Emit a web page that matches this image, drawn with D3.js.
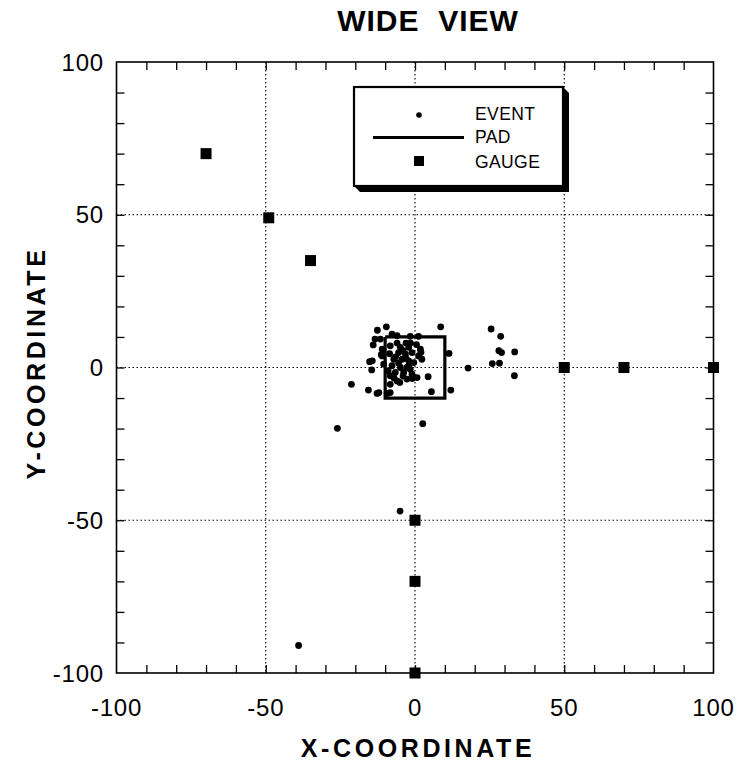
<!DOCTYPE html>
<html><head><meta charset="utf-8">
<script src="https://d3js.org/d3.v7.min.js"></script>
<style>
body{margin:0;background:#fff;}
svg{display:block;}
text{font-family:"Liberation Sans",Arial,Helvetica,sans-serif;fill:#000;}
</style></head>
<body>
<svg id="chart" width="741" height="768"></svg>
<script>
// ---- data ----
const eventX = [-9.6,-12.6,8.6,-13.4,-14,-11.3,-14.3,-15.2,-14.5,-21.3,-15.6,-12.7,5.5,12,11.4,17.8,25.5,28.7,28.1,29,33.4,25.9,28.3,33.3,-26,2.6,4.4,-9.3,
 -7.7,-6,-1.6,1.2,-8.3,-4.9,-2.1,-5.5,-3.2,-1,1.2,-11,-7.1,-4.3,-2.1,-0.4,-10.5,-7.7,-4.9,-2.7,-1.6,-6.6,-3.8,-1,-8.3,-6,-2.7,0.7,-5.1,-8.3,-8.3,-11.6,-11,2.3,1.8,-12.1,
 -3,-6,-1.5,-4,-6.5,-3,-5.5,-2,-8.5,-9,-7,-4,0.5,2,-0.9,-5,-39];
const eventY = [13.3,12.2,13.3,9.3,7.4,4.2,2.2,1.9,-0.8,-5.5,-7.4,-8.5,-7.9,-7.4,4.6,-0.2,12.6,10.2,5.5,4.9,5.1,1.3,1.4,-2.7,-19.9,-18.4,-3,-8.5,
 10.9,10.4,10.2,10.2,7.1,6.6,6.6,4.9,4.4,4.9,3.8,3.8,2.7,2.7,2.2,1.6,1.1,0.6,0,0,-0.6,-1.6,-1.6,-2.2,-2.7,-4.4,-3.8,-3.3,-4.9,-5.5,-8.2,9.3,6,2.7,6,-8.2,
 8,8,8,5.5,3.5,3,1.5,0.8,4.5,-1,-3.5,-2.8,7.5,5,-3.6,-47,-91];
const gaugeX = [-70,-49,-35,50,70,100,0,0,0];
const gaugeY = [70,49,35,0,0,0,-50,-70,-100];
const padX = [-10,10,10,-10,-10];
const padY = [10,10,-10,-10,10];
const majorTicks = [-100,-50,0,50,100];
const minorTicks = [-90,-80,-70,-60,-50,-40,-30,-20,-10,0,10,20,30,40,50,60,70,80,90];
const gridValues = [-50,0,50];
const legendLabels = ["EVENT","PAD","GAUGE"];

// ---- layout ----
const L = 116.5, R = 713.5, T = 62, B = 673;
const x = d3.scaleLinear().domain([-100,100]).range([L,R]);
const y = d3.scaleLinear().domain([-100,100]).range([B,T]);
const svg = d3.select("#chart");

// title
svg.append("text").attr("x",428).attr("y",31).attr("text-anchor","middle")
  .style("font-size","30px").style("font-weight","bold").style("white-space","pre").style("letter-spacing","1px")
  .text("WIDE  VIEW");

// grid
const g = svg.append("g");
g.selectAll(".gx").data(gridValues).enter().append("line")
  .attr("x1",d=>x(d)).attr("x2",d=>x(d)).attr("y1",T).attr("y2",B)
  .attr("stroke","#000").attr("stroke-width",1.1).attr("stroke-dasharray","1.5,2.5");
g.selectAll(".gy").data(gridValues).enter().append("line")
  .attr("y1",d=>y(d)).attr("y2",d=>y(d)).attr("x1",L).attr("x2",R)
  .attr("stroke","#000").attr("stroke-width",1.1).attr("stroke-dasharray","1.5,2.5");

// ticks (inward) on four sides using d3 axes
function styleAxis(sel){ sel.select(".domain").remove(); sel.selectAll(".tick line").attr("stroke","#000").attr("stroke-width",1.3); sel.selectAll(".tick text").remove(); }
svg.append("g").attr("transform",`translate(0,${B})`).call(d3.axisBottom(x).tickValues(minorTicks).tickSize(-8)).call(styleAxis);
svg.append("g").attr("transform",`translate(0,${T})`).call(d3.axisTop(x).tickValues(minorTicks).tickSize(-8)).call(styleAxis);
svg.append("g").attr("transform",`translate(${L},0)`).call(d3.axisLeft(y).tickValues(minorTicks).tickSize(-8)).call(styleAxis);
svg.append("g").attr("transform",`translate(${R},0)`).call(d3.axisRight(y).tickValues(minorTicks).tickSize(-8)).call(styleAxis);

// frame
svg.append("rect").attr("x",L).attr("y",T).attr("width",R-L).attr("height",B-T)
  .attr("fill","none").attr("stroke","#000").attr("stroke-width",1.6);

// tick labels
svg.selectAll(".xl").data(majorTicks).enter().append("text")
  .attr("x",d=>x(d)).attr("y",716).attr("text-anchor","middle")
  .style("font-size","24px").style("letter-spacing","0.8px").text(d=>d);
svg.selectAll(".yl").data(majorTicks).enter().append("text")
  .attr("x",104).attr("y",d=>y(d)+8.5).attr("text-anchor","end")
  .style("font-size","24px").style("letter-spacing","0.8px").text(d=>d);

// axis titles
svg.append("text").attr("x",418).attr("y",757).attr("text-anchor","middle")
  .style("font-size","25px").style("font-weight","bold").style("letter-spacing","3.6px")
  .text("X-COORDINATE");
svg.append("text").attr("transform","translate(45,363) rotate(-90)").attr("text-anchor","middle")
  .style("font-size","25px").style("font-weight","bold").style("letter-spacing","3.6px")
  .text("Y-COORDINATE");

// pad
svg.append("path").datum(padX.map((v,i)=>[v,padY[i]]))
  .attr("d",d3.line().x(d=>x(d[0])).y(d=>y(d[1])))
  .attr("fill","none").attr("stroke","#000").attr("stroke-width",3.2).attr("stroke-linejoin","miter");

// events
svg.selectAll(".ev").data(eventX.map((v,i)=>[v,eventY[i]])).enter().append("circle")
  .attr("cx",d=>x(d[0])).attr("cy",d=>y(d[1])).attr("r",3.4).attr("fill","#000");

// gauges
const gs = 11;
svg.selectAll(".ga").data(gaugeX.map((v,i)=>[v,gaugeY[i]])).enter().append("rect")
  .attr("x",d=>x(d[0])-gs/2).attr("y",d=>y(d[1])-gs/2).attr("width",gs).attr("height",gs).attr("fill","#000");

// legend
const lx0=354, ly0=87, lx1=563, ly1=186, sh=6;
svg.append("polygon")
  .attr("points",`${lx0},${ly1} ${lx0+sh},${ly1+sh} ${lx1+sh},${ly1+sh} ${lx1+sh},${ly0+sh} ${lx1},${ly0}`)
  .attr("fill","#000");
svg.append("rect").attr("x",lx0).attr("y",ly0).attr("width",lx1-lx0).attr("height",ly1-ly0)
  .attr("fill","#fff").attr("stroke","#000").attr("stroke-width",2.2);
svg.append("circle").attr("cx",419).attr("cy",115).attr("r",2.8).attr("fill","#000");
svg.append("line").attr("x1",373).attr("x2",464).attr("y1",137.5).attr("y2",137.5)
  .attr("stroke","#000").attr("stroke-width",3.2);
svg.append("rect").attr("x",414).attr("y",156).attr("width",10).attr("height",10).attr("fill","#000");
const legY=[120,142.5,167.5];
svg.selectAll(".lt").data(legendLabels).enter().append("text")
  .attr("x",475).attr("y",(d,i)=>legY[i]).style("font-size","17.5px").style("letter-spacing","0.4px")
  .text(d=>d);
</script>
</body></html>
